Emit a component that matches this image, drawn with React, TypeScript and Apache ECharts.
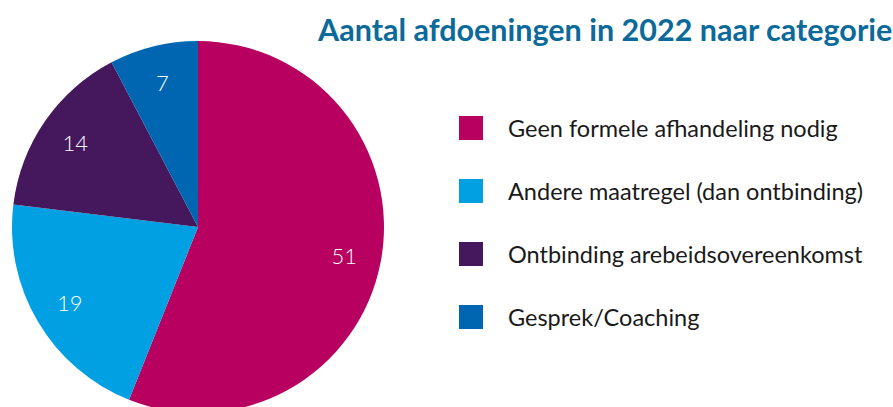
import React, { useEffect, useRef } from "react";
import * as echarts from "echarts";

const categories = [
  "Geen formele afhandeling nodig",
  "Andere maatregel (dan ontbinding)",
  "Ontbinding arebeidsovereenkomst",
  "Gesprek/Coaching",
];
const values = [51, 19, 14, 7];
const colors = ["#B80060", "#00A0E2", "#45175C", "#0066B2"];
const title = "Aantal afdoeningen in 2022 naar categorie";

export default function App() {
  const ref = useRef<HTMLDivElement>(null);
  useEffect(() => {
    if (!ref.current) return;
    const chart = echarts.init(ref.current, null, { renderer: "svg" });
    const font = "Lato";
    chart.setOption({
      animation: false,
      backgroundColor: "#ffffff",
      title: {
        text: title,
        left: 318,
        top: 13,
        padding: 0,
        textStyle: { fontFamily: font, fontWeight: "bold", fontSize: 30.5, color: "#0B6A9A" },
      },
      legend: {
        orient: "vertical",
        left: 459,
        top: 116,
        padding: 0,
        itemWidth: 24,
        itemHeight: 24,
        itemGap: 39,
        icon: "rect",
        selectedMode: false,
        data: categories.map((c, i) => ({ name: c, itemStyle: { color: colors[i] } })),
        textStyle: {
          fontFamily: font,
          fontSize: 23.5,
          color: "#1a1a1a",
          padding: [0, 0, 0, 20],
        },
      },
      series: [
        {
          type: "pie",
          center: [198, 227],
          radius: [0, 186],
          startAngle: 90,
          clockwise: true,
          silent: true,
          label: { show: false },
          labelLine: { show: false },
          itemStyle: { borderWidth: 0 },
          data: categories.map((c, i) => ({ name: c, value: values[i], itemStyle: { color: colors[i] } })),
        },
        {
          type: "pie",
          center: [198, 227],
          radius: [0, 292],
          startAngle: 90,
          clockwise: true,
          silent: true,
          avoidLabelOverlap: false,
          itemStyle: { color: "rgba(0,0,0,0)", borderWidth: 0 },
          label: {
            show: true,
            position: "inside",
            formatter: "{c}",
            fontFamily: font,
            fontWeight: 300,
            fontSize: 22,
            color: "#ffffff",
          },
          labelLine: { show: false },
          data: categories.map((c, i) => ({ name: c, value: values[i] })),
        },
      ],
    });
    return () => chart.dispose();
  }, []);
  return (
    <div
      ref={ref}
      style={{ position: "fixed", left: 0, top: 0, width: 893, height: 407 }}
    />
  );
}
